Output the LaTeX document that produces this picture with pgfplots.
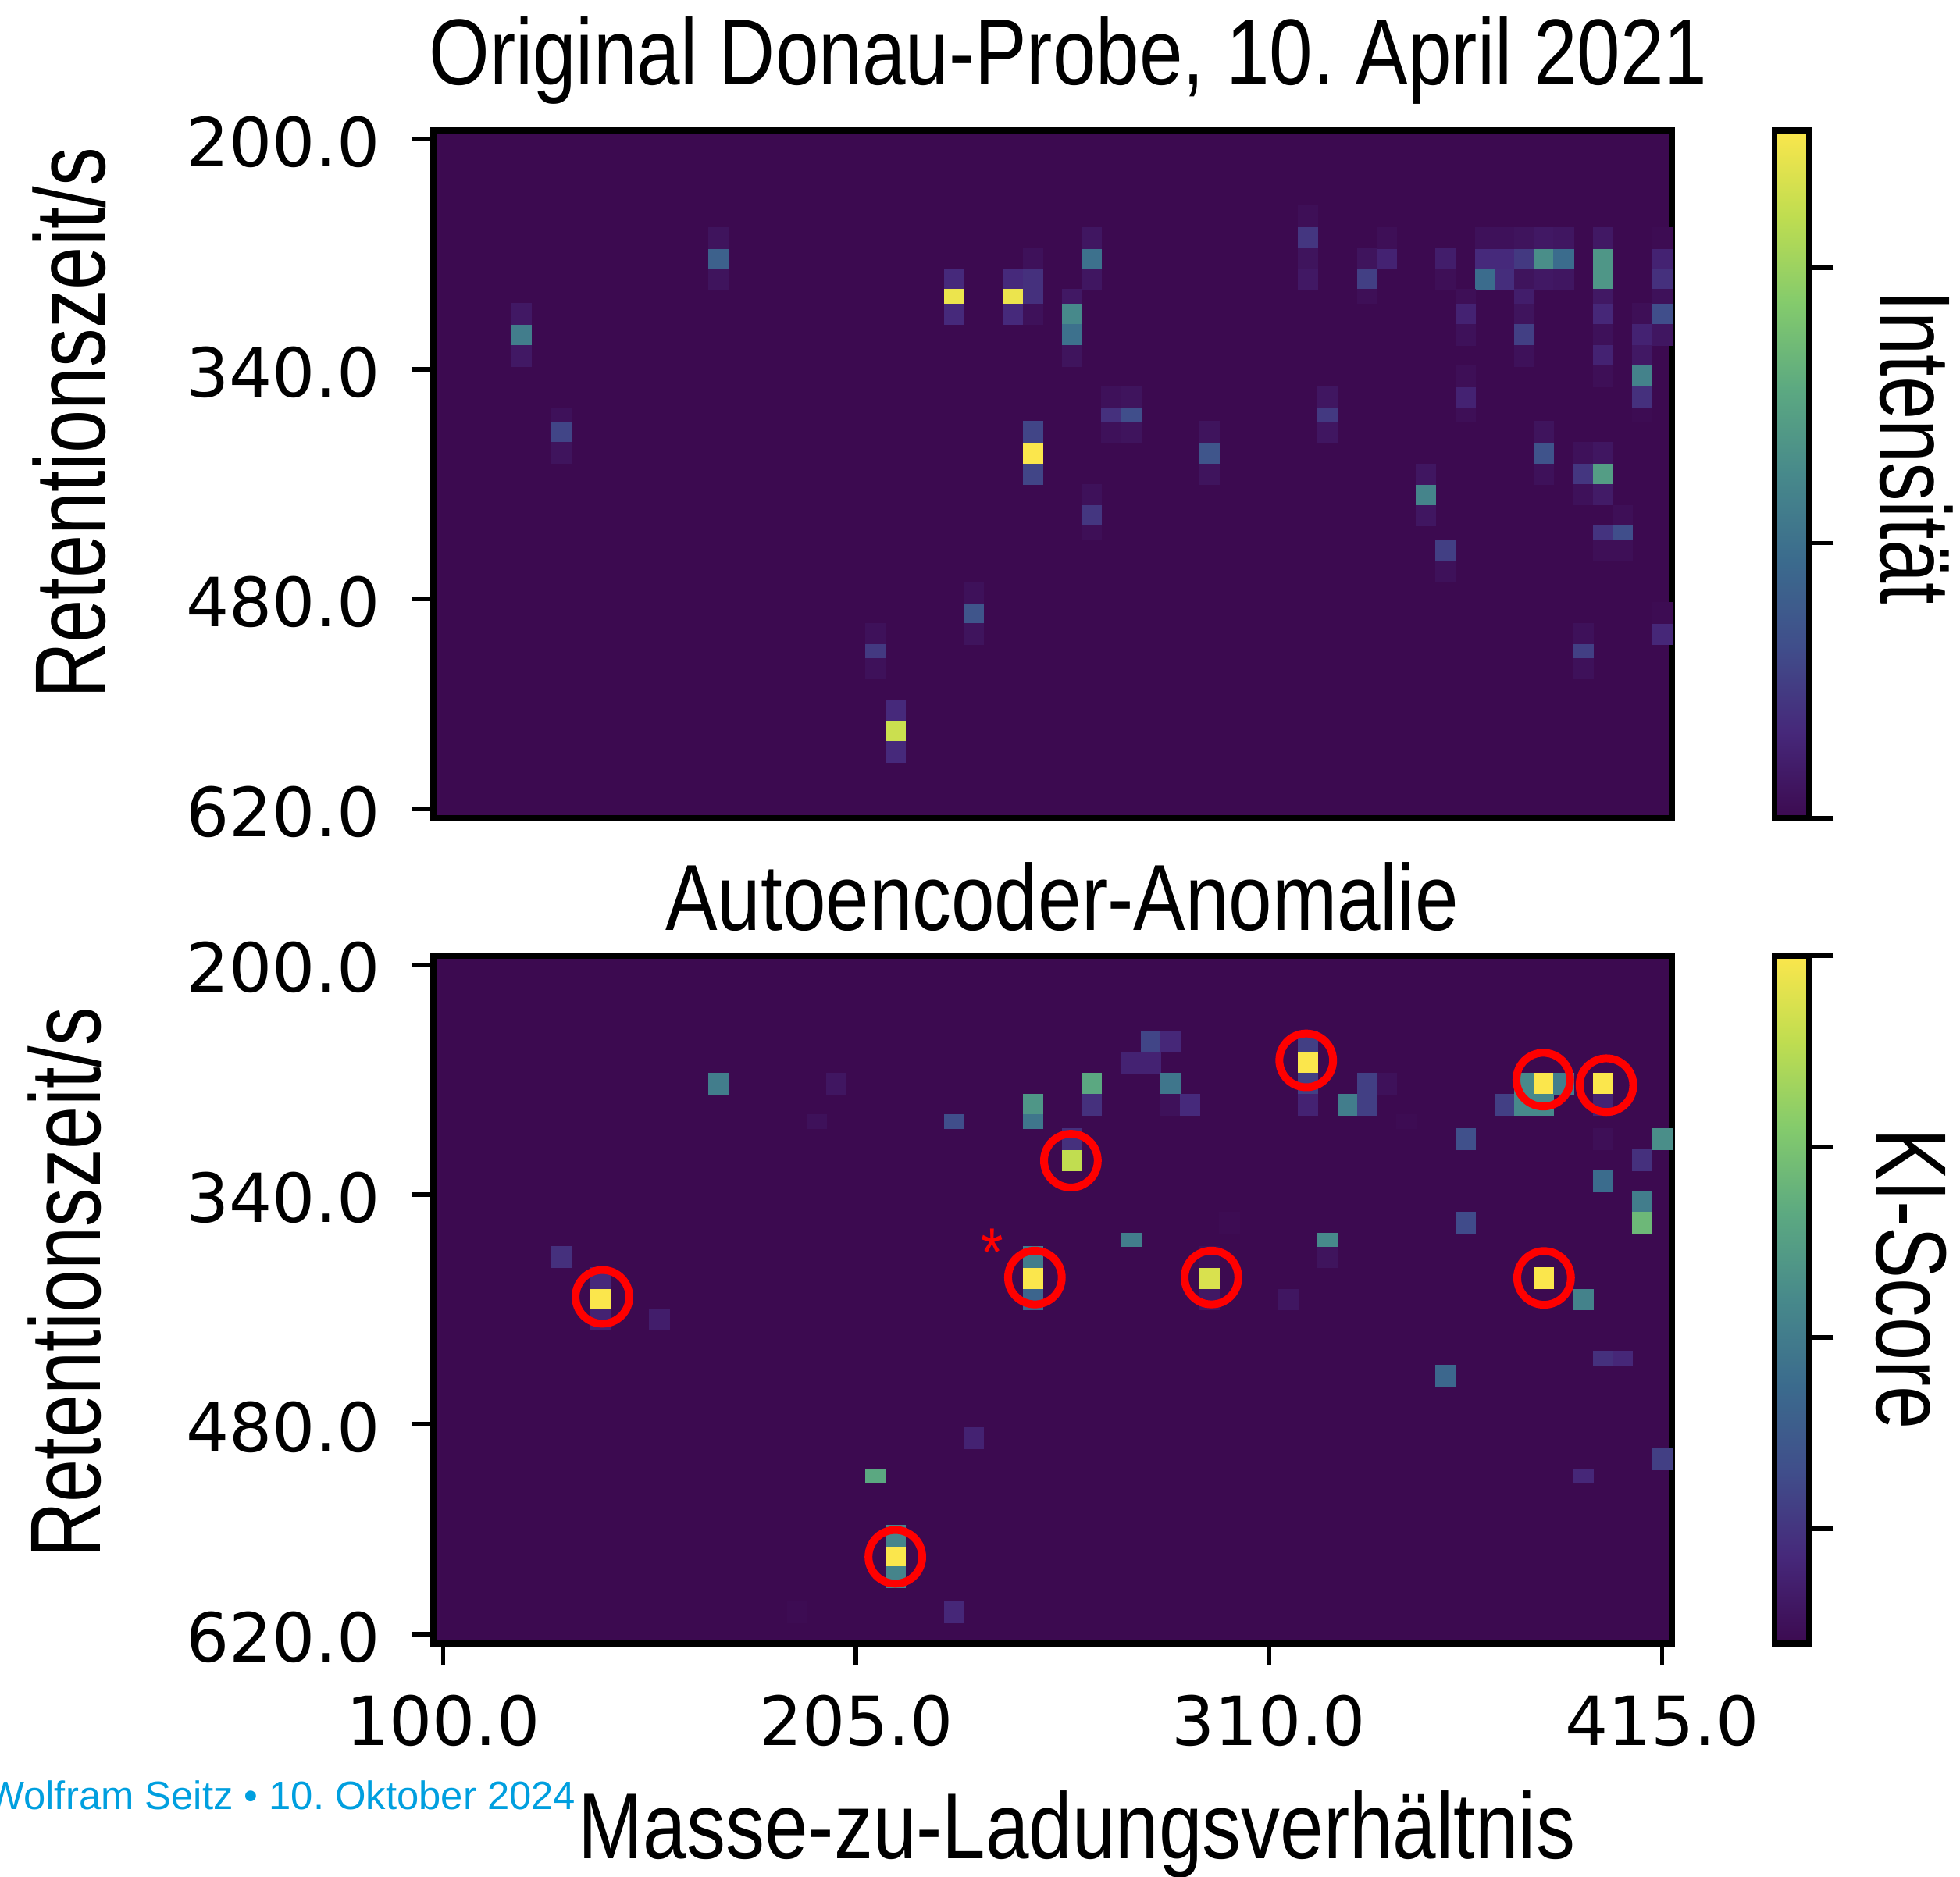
\documentclass[border=0pt]{standalone}
\usepackage{fontspec}
\usepackage{pgfplots}
\pgfplotsset{compat=1.18}
\setmainfont[FakeStretch=0.832]{Liberation Sans}
\newfontfamily\vlab[FakeStretch=0.775]{Liberation Sans}
\newfontfamily\creditf{Liberation Sans}
\newfontfamily\tickf{DejaVu Sans}
\definecolor{bgv}{RGB}{60,10,80}
\definecolor{credit}{RGB}{0,159,223}
\pgfplotsset{
  colormap={vir}{rgb255(0)=(60,10,80) rgb255(1)=(70,40,122) rgb255(2)=(64,78,139) rgb255(3)=(59,107,141) rgb255(4)=(71,137,139) rgb255(5)=(92,169,129) rgb255(6)=(132,203,108) rgb255(7)=(191,221,80) rgb255(8)=(251,230,76)},
  panel/.style={
    scale only axis, width=396.5pt, height=220.25pt, anchor=south west,
    xmin=-0.5, xmax=62.5, ymin=-0.45, ymax=34.45, y dir=reverse,
    axis line style={line width=1.8pt, line cap=rect},
    tick align=outside, tick pos=left, major tick length=7pt,
    every tick/.style={black, line width=1.4pt},
    axis background/.style={fill=bgv}, axis on top,
    point meta min=0, point meta max=1,
    ytick={0,11.67,23.33,33.97}, yticklabels={200.0,340.0,480.0,620.0},
    tick label style={font=\tickf\fontsize{21.7}{21.7}\selectfont},
    yticklabel style={yshift=-1pt},
    yticklabel shift=6.5pt, xticklabel shift=6pt,
  },
  cbar/.style={
    colorbar, colorbar style={
      at={(1.0829,0)}, anchor=south west, scale only axis, width=11pt, height=220.25pt,
      ymin=0, ymax=1, ytick={#1}, yticklabels={}, tick align=outside, ytick pos=right,
      major tick length=8pt, xtick=\empty, axis on top,
      axis line style={line width=1.8pt},
      every tick/.style={black, line width=1.4pt},
    },
  },
  tall/.style={only marks, scatter, mark=square*, mark size=3.15pt, point meta=explicit,
    scatter/use mapped color={fill=mapped color, draw=mapped color},
    mark options={yscale=1.07, line width=0pt}},
  thin/.style={only marks, scatter, mark=square*, mark size=3.15pt, point meta=explicit,
    scatter/use mapped color={fill=mapped color, draw=mapped color},
    mark options={yscale=0.7, line width=0pt}},
}
\begin{document}
\frenchspacing
\begin{tikzpicture}[x=1pt,y=1pt]
\useasboundingbox (0,0) rectangle (627.5,600.75);
\begin{axis}[panel, cbar={0,0.4,0.8}, at={(138.75pt,338.75pt)}, xtick=\empty]
\addplot[tall] table[meta=v] {
x y v
4 9.92 .45
4 8.85 .06
4 11 .06
6 14.85 .22
6 15.92 .04
14 6.03 .33
14 5 .04
14 7.1 .04
26 7.1 .13
26 8.85 .13
29 7.1 .13
29 8.85 .13
30 7.1 .15
30 6.03 .03
30 8.85 .03
30 15.92 1
30 14.85 .22
30 17 .22
27 24.03 .28
27 23 .03
27 25.1 .04
22 25.1 .03
22 26.85 .03
23 30.03 .9
23 29 .13
23 31.1 .13
32 8.85 .5
32 9.92 .4
32 11 .04
33 6.03 .4
33 5 .05
33 7.1 .05
33 19.1 .17
33 18.03 .03
34 13.1 .03
34 14.85 .03
35 13.1 .04
35 14.85 .04
39 15.92 .28
39 14.85 .04
39 17 .04
44 5 .17
44 3.92 .02
44 6.03 .04
44 7.1 .06
45 13.1 .05
45 14.85 .05
47 7.1 .2
47 6.03 .04
48 6.03 .1
48 5 .02
50 18.03 .48
50 17 .05
50 19.1 .05
51 6.03 .08
51 7.1 .02
51 20.85 .2
51 21.92 .03
52 8.85 .1
52 9.92 .03
52 13.1 .1
52 12.03 .02
53 6.03 .13
53 5 .03
53 7.1 .38
54 6.03 .13
54 5 .03
54 7.1 .14
55 6.03 .18
55 5 .04
55 7.1 .04
55 8.85 .04
55 9.92 .2
55 11 .03
56 6.03 .52
56 5 .06
56 7.1 .06
56 15.92 .27
56 14.85 .04
56 17 .03
57 6.03 .38
57 5 .05
57 7.1 .05
58 17 .17
58 15.92 .03
58 18.03 .03
58 25.1 .03
58 26.85 .03
59 6.03 .55
59 7.1 .55
59 5 .06
59 8.85 .12
59 9.92 .03
59 11 .1
59 12.03 .02
59 15.92 .05
59 17 .58
59 18.03 .07
59 20.85 .02
60 20.85 .02
60 19.1 .02
61 8.85 .02
61 9.92 .1
61 11 .06
61 12.03 .47
61 13.1 .15
62 6.03 .1
62 7.1 .15
62 8.85 .25
62 9.92 .05
62 5 .01
62 25.1 .12
62 24.03 .01
};
\addplot[thin] table[meta=v] {
x y v
6 13.97 .03
26 7.97 .97
29 7.97 .97
30 7.97 .15
22 25.97 .18
32 7.97 .06
33 19.97 .02
34 13.97 .15
35 13.97 .25
45 13.97 .18
47 7.97 .02
52 7.97 .02
52 13.97 .02
55 7.97 .08
58 25.97 .2
59 7.97 .06
59 19.97 .16
60 19.97 .25
61 13.97 .01
62 7.97 .03
};
\end{axis}
\begin{axis}[panel, cbar={0.167,0.445,0.722,1}, at={(138.75pt,74.5pt)},
  xtick={0,21,42,62}, xticklabels={100.0,205.0,310.0,415.0}]
\addplot[tall] table[meta=v] {
x y v
6 14.85 .15
8 17 1
8 15.92 .13
8 18.03 .1
11 18.03 .08
14 6.03 .45
20 6.03 .05
30 7.1 .55
30 15.92 1
30 14.85 .45
30 17 .35
27 24.03 .1
23 30.03 1
23 29 .48
23 31.1 .48
18 32.85 .01
26 32.85 .12
32 9.92 .88
32 8.85 .15
33 6.03 .62
33 7.1 .15
35 5 .1
36 5 .1
36 3.92 .22
37 3.92 .12
37 6.03 .42
37 7.1 .03
38 7.1 .13
39 15.92 .93
39 17 .06
39 14.85 .03
40 13.1 .01
43 17 .05
44 5 1
44 3.92 .2
44 6.03 .2
44 7.1 .1
45 14.85 .04
46 7.1 .45
47 6.03 .2
47 7.1 .2
48 6.03 .03
51 20.85 .36
52 8.85 .26
52 13.1 .24
54 7.1 .2
55 6.03 .5
55 7.1 .5
56 6.03 1
56 7.1 .5
56 15.92 1
57 6.03 .45
58 17 .47
59 6.03 1
59 7.1 .1
59 11 .38
59 8.85 .02
61 9.92 .15
61 12.03 .45
61 13.1 .68
62 8.85 .52
62 25.1 .2
};
\addplot[thin] table[meta=v] {
x y v
19 7.97 .03
26 7.97 .25
30 7.97 .42
22 25.97 .62
35 13.97 .45
45 13.97 .5
49 7.97 .01
58 25.97 .12
59 19.97 .15
60 19.97 .12
};
\addplot[only marks, scatter, point meta=explicit, mark=o, mark size=8.6pt,
  scatter/use mapped color={draw=red, fill=none},
  mark options={line width=2.5pt}] table[meta=v] {
x y v
8.1 16.86 1
23 30.05 1
30.1 15.88 1
31.93 9.95 1
39.08 15.88 1
43.9 4.86 1
55.96 5.84 1
59.17 6.12 1
56 15.9 1
};
\end{axis}
\def\big{\fontsize{30}{30}\selectfont}
\def\vbig{\vlab\fontsize{32}{32}\selectfont}
\node[anchor=base, inner sep=0] at (342,573.5) {\big Original Donau-Probe, 10. April 2021};
\node[anchor=base, inner sep=0] at (340,302.75) {\big Autoencoder-Anomalie};
\node[anchor=base, inner sep=0] at (344.75,5.5) {\big Masse-zu-Ladungsverhältnis};
\node[anchor=base, inner sep=0, rotate=90] at (33.5,465.25) {\vbig Retentionszeit/s};
\node[anchor=base, inner sep=0, rotate=90] at (32,190) {\vbig Retentionszeit/s};
\node[anchor=base, inner sep=0, rotate=-90] at (602,457.5) {\vbig Intensität};
\node[anchor=base, inner sep=0, rotate=-90] at (600.75,191.25) {\vbig KI-Score};
\node[anchor=base east, inner sep=0, text=credit] at (184.5,21.5) {\creditf\fontsize{12.7}{12.7}\selectfont Wolfram Seitz • 10. Oktober 2024};
\node[inner sep=0, text=red] at (317.75,199.75) {\fontsize{22}{22}\selectfont *};
\end{tikzpicture}
\end{document}
